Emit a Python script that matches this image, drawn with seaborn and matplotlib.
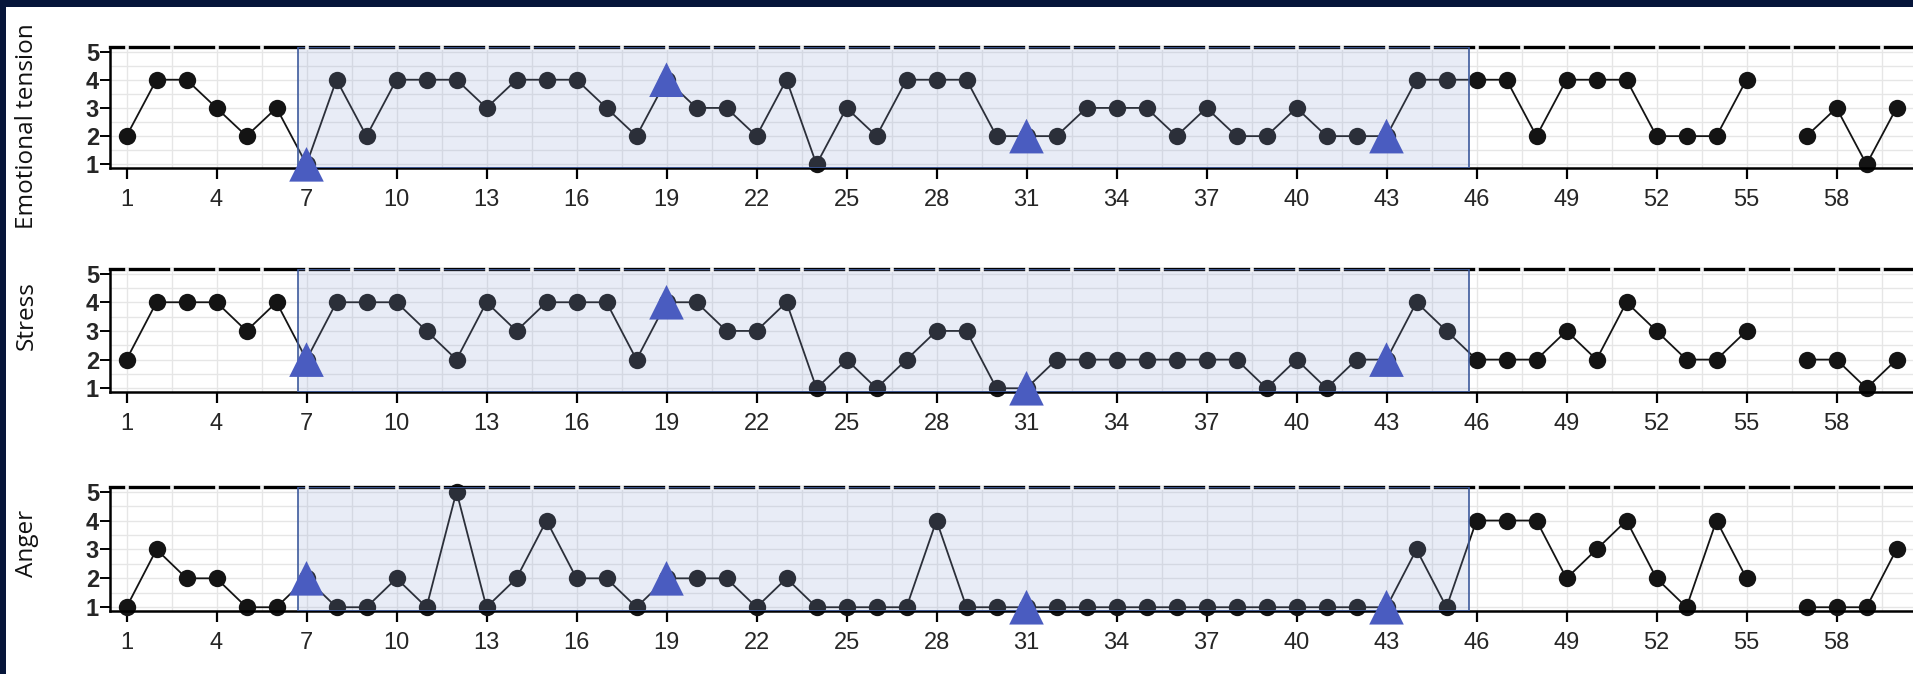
import numpy as np
import pandas as pd
import seaborn as sns
import matplotlib.pyplot as plt
from matplotlib.patches import Rectangle

# ---- data -------------------------------------------------------------
days = list(range(1, 61))
nan = np.nan

emotional_tension = [2, 4, 4, 3, 2, 3, 1, 4, 2, 4,
                     4, 4, 3, 4, 4, 4, 3, 2, 4, 3,
                     3, 2, 4, 1, 3, 2, 4, 4, 4, 2,
                     2, 2, 3, 3, 3, 2, 3, 2, 2, 3,
                     2, 2, 2, 4, 4, 4, 4, 2, 4, 4,
                     4, 2, 2, 2, 4, nan, 2, 3, 1, 3]

stress = [2, 4, 4, 4, 3, 4, 2, 4, 4, 4,
          3, 2, 4, 3, 4, 4, 4, 2, 4, 4,
          3, 3, 4, 1, 2, 1, 2, 3, 3, 1,
          1, 2, 2, 2, 2, 2, 2, 2, 1, 2,
          1, 2, 2, 4, 3, 2, 2, 2, 3, 2,
          4, 3, 2, 2, 3, nan, 2, 2, 1, 2]

anger = [1, 3, 2, 2, 1, 1, 2, 1, 1, 2,
         1, 5, 1, 2, 4, 2, 2, 1, 2, 2,
         2, 1, 2, 1, 1, 1, 1, 4, 1, 1,
         1, 1, 1, 1, 1, 1, 1, 1, 1, 1,
         1, 1, 1, 3, 1, 4, 4, 4, 2, 3,
         4, 2, 1, 4, 2, nan, 1, 1, 1, 3]

panel_names = ["Emotional tension", "Stress", "Anger"]
panel_values = [emotional_tension, stress, anger]

# days flagged with a triangle marker
marked_days = [7, 19, 31, 43]
# intervention phase boundaries (shaded)
phase_start, phase_end = 6.7, 45.75
# missing day splits the series into two runs
gap_day = 56

x_ticks = list(range(1, 59, 3))
y_ticks = [1, 2, 3, 4, 5]

# ---- long-form table --------------------------------------------------
frames = []
for name, vals in zip(panel_names, panel_values):
    d = pd.DataFrame({"day": days, "value": vals})
    d["measure"] = name
    d["run"] = (d["day"] > gap_day).astype(int)
    frames.append(d)
df = pd.concat(frames, ignore_index=True).dropna()

# ---- styling ----------------------------------------------------------
sns.set_theme(style="white")
plt.rcParams["font.family"] = ["Liberation Sans", "DejaVu Sans"]

NAVY = "#06153a"
LINE = "#141414"
TRI = "#4a5cc0"
SHADE = "#8ca0d2"
EDGE = "#3d5a9c"
GRID = "#e6e6e6"

W, H = 1913, 674
fig = plt.figure(figsize=(W / 100, H / 100), dpi=100)
fig.patch.set_facecolor(NAVY)
fig.add_artist(Rectangle((6 / W, 0), 1, 1 - 7 / H, transform=fig.transFigure,
                         facecolor="white", edgecolor="none", zorder=-10))

# axes boxes in pixels: (top, bottom)
boxes = [(47, 168), (269, 392), (487, 611)]
label_y = [126, 316, 543]
left_px = 110

for (top, bot), name, ly in zip(boxes, panel_names, label_y):
    ax = fig.add_axes([left_px / W, 1 - bot / H, 1 - left_px / W, (bot - top) / H])
    ax.set_facecolor("none")
    sub = df[df["measure"] == name]

    sns.lineplot(data=sub, x="day", y="value", units="run", estimator=None,
                 color=LINE, lw=1.3, marker="o", markersize=12.5,
                 markeredgewidth=0, ax=ax, zorder=2, clip_on=False,
                 legend=False)

    ax.axvspan(phase_start, phase_end, facecolor=SHADE, alpha=0.2,
               edgecolor="none", zorder=3)
    ax.axvspan(phase_start, phase_end, facecolor="none", edgecolor=EDGE,
               lw=1.2, zorder=3.5)

    tri = sub[sub["day"].isin(marked_days)]
    sns.scatterplot(data=tri, x="day", y="value", marker="^", s=620,
                    color=TRI, edgecolor="none", ax=ax, zorder=4,
                    clip_on=False, legend=False)

    ax.set_xlim(0.45, 60.55)
    ax.set_ylim(0.87, 5.16)
    ax.set_xticks(x_ticks)
    ax.set_xticks(np.arange(2.5, 61, 3), minor=True)
    ax.set_yticks(y_ticks)
    ax.set_yticks(np.arange(1.5, 5, 1.0), minor=True)
    ax.grid(which="both", color=GRID, lw=1.0, zorder=0)
    ax.set_axisbelow(True)

    ax.tick_params(axis="x", which="major", direction="out", length=8,
                   width=1.6, color="black", pad=7, labelsize=17,
                   labelcolor="#262626", bottom=True)
    ax.tick_params(axis="y", which="major", direction="out", length=7,
                   width=1.4, color="black", pad=1, labelsize=17,
                   labelcolor="#262626", left=True)
    ax.tick_params(which="minor", length=0)
    for t in ax.get_yticklabels():
        t.set_fontweight("bold")

    ax.set_xlabel("")
    ax.set_ylabel("")

    for side in ("left", "bottom", "top"):
        ax.spines[side].set_visible(True)
        ax.spines[side].set_color("black")
    ax.spines["left"].set_linewidth(1.8)
    ax.spines["bottom"].set_linewidth(1.8)
    ax.spines["top"].set_linewidth(2.4)
    ax.spines["right"].set_visible(False)

    # short breaks in the top border where the vertical grid lines meet it
    breaks = np.arange(1, 61, 1.5)
    ax.vlines(breaks, 0.975, 1.02, transform=ax.get_xaxis_transform(),
              colors="#f2f2f2", lw=2.6, zorder=5, clip_on=False)

    fig.text(27 / W, 1 - ly / H, name, rotation=90, ha="center", va="center",
             fontsize=17.5, family=["Open Sans", "DejaVu Sans"], color="#111111")

fig.savefig("out.png", dpi=100, facecolor=fig.get_facecolor())
